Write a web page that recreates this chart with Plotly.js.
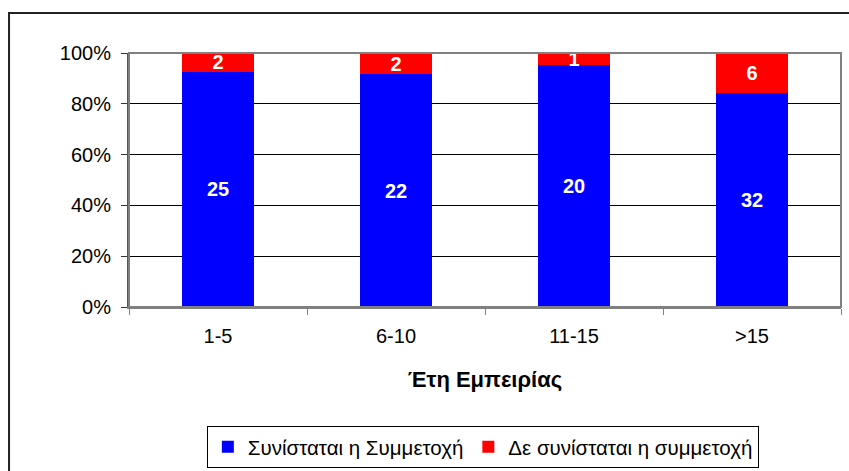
<!DOCTYPE html>
<html>
<head>
<meta charset="utf-8">
<script src="https://cdn.plot.ly/plotly-3.0.1.min.js"></script>
<style>html,body{margin:0;padding:0;background:#fff;}#chart{width:849px;height:471px;}</style>
</head>
<body>
<div id="chart"></div>
<script>
const categories = ["1-5", "6-10", "11-15", ">15"];
const recommended = [25, 22, 20, 32];
const notRecommended = [2, 2, 1, 6];
const seriesNames = ["Συνίσταται η Συμμετοχή", "Δε συνίσταται η συμμετοχή"];
const xTitle = "Έτη Εμπειρίας";
const yTickValues = [0, 20, 40, 60, 80, 100];
const yTickLabels = ["0%", "20%", "40%", "60%", "80%", "100%"];

const FONT = "Arial, 'Liberation Sans', sans-serif";

const traces = [
  {
    type: "bar", name: seriesNames[0], x: categories, y: recommended,
    marker: {color: "#0000FF"},
    text: recommended.map(String), textposition: "inside", insidetextanchor: "middle", textangle: 0,
    textfont: {color: "#FFFFFF", size: 20, family: FONT, weight: "bold"},
    hoverinfo: "none"
  },
  {
    type: "bar", name: seriesNames[1], x: categories, y: notRecommended,
    marker: {color: "#FF0000"},
    text: notRecommended.map(String), textposition: "inside", insidetextanchor: "middle", textangle: 0,
    textfont: {color: "#FFFFFF", size: 20, family: FONT, weight: "bold"},
    hoverinfo: "none"
  }
];

const layout = {
  width: 849, height: 471,
  margin: {l: 129, r: 8, t: 53, b: 164},
  paper_bgcolor: "#FFFFFF", plot_bgcolor: "#FFFFFF",
  barmode: "stack", barnorm: "percent", bargap: 0.6,
  uniformtext: {minsize: 20, mode: "show"},
  font: {family: FONT, color: "#000000", size: 20},
  showlegend: true,
  legend: {
    orientation: "h", xref: "paper", x: 0.497, xanchor: "center",
    yref: "container", y: 0.0955, yanchor: "top",
    bordercolor: "#000000", borderwidth: 1, bgcolor: "#FFFFFF",
    font: {size: 20.5, family: FONT, color: "#000000"},
    traceorder: "normal", itemwidth: 30
  },
  xaxis: {
    type: "category",
    tickson: "boundaries", ticks: "outside", ticklen: 6, tickcolor: "#808080", tickwidth: 1,
    showgrid: false, showline: true, linecolor: "#808080", linewidth: 2,
    tickfont: {size: 20, family: FONT},
    ticklabelstandoff: 10,
    title: {text: xTitle, font: {size: 22, family: FONT, weight: "bold"}, standoff: 26},
    zeroline: false, fixedrange: true, automargin: false
  },
  yaxis: {
    range: [0, 100], tickmode: "array", tickvals: yTickValues, ticktext: yTickLabels,
    ticks: "outside", ticklen: 6, tickcolor: "#333333", tickwidth: 1,
    showgrid: true, gridcolor: "#000000", gridwidth: 1,
    showline: true, linecolor: "#555555", linewidth: 2,
    tickfont: {size: 20, family: FONT},
    ticklabelstandoff: 6,
    zeroline: false, fixedrange: true, automargin: false
  },
  shapes: [
    {type: "rect", xref: "paper", yref: "paper", x0: 0, x1: 1, y0: 0, y1: 1,
     line: {color: "#808080", width: 2}, fillcolor: "rgba(0,0,0,0)", layer: "above"},
    {type: "rect", xref: "paper", yref: "paper", x0: -0.1685, x1: 1.2, y0: -1.0, y1: 1.157,
     line: {color: "#222222", width: 2}, fillcolor: "rgba(0,0,0,0)", layer: "above"}
  ]
};

Plotly.newPlot("chart", traces, layout, {displayModeBar: false, staticPlot: true});
</script>
</body>
</html>
